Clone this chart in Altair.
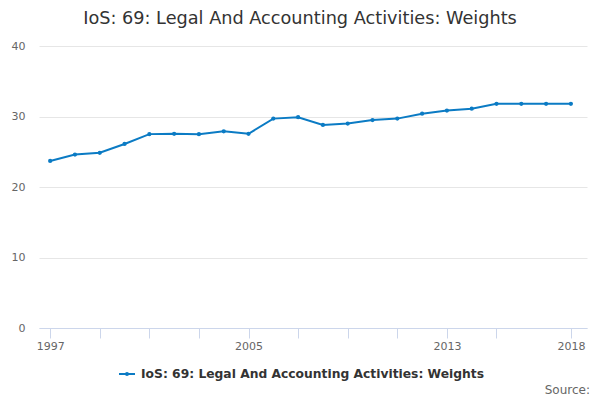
import altair as alt
import pandas as pd

years = list(range(1997, 2019))
values = [23.7, 24.6, 24.85, 26.1, 27.5, 27.55, 27.5, 27.9, 27.55, 29.7, 29.9,
          28.8, 29.0, 29.5, 29.7, 30.4, 30.85, 31.1, 31.8, 31.8, 31.8, 31.8]
series_name = "IoS: 69: Legal And Accounting Activities: Weights"
tick_years = [1997, 1999, 2001, 2003, 2005, 2007, 2009, 2011, 2013, 2015, 2018]
label_years = [1997, 2005, 2013, 2018]
y_ticks = [0, 10, 20, 30, 40]

df = pd.DataFrame({"year": years, "value": values, "series": series_name})

FONT = "DejaVu Sans"
COLOR = "#0b7bc4"
W, H = 548, 282

label_test = " || ".join(f"datum.value == {y}" for y in label_years)
legend_symbol = "M-1,0H1M-0.13,0A0.13,0.13 0 1,0 0.13,0A0.13,0.13 0 1,0 -0.13,0Z"

base = alt.Chart(df).encode(
    x=alt.X("year:Q",
            scale=alt.Scale(domain=[1996.55, 2018.65], nice=False, zero=False),
            axis=alt.Axis(values=tick_years, labelExpr=f"({label_test}) ? datum.value : ''",
                          title=None, grid=False, domainColor="#ccd6eb", tickColor="#ccd6eb",
                          tickSize=10, labelColor="#666666", labelFontSize=11, labelFont=FONT,
                          labelPadding=2, labelFlush=False, labelOverlap=False)),
    y=alt.Y("value:Q",
            scale=alt.Scale(domain=[0, 40], nice=False),
            axis=alt.Axis(values=y_ticks, title=None, domain=False, ticks=False,
                          gridColor="#e6e6e6", labelColor="#666666", labelFontSize=11,
                          labelFont=FONT, labelPadding=14)),
    color=alt.Color("series:N", scale=alt.Scale(range=[COLOR]),
                    legend=alt.Legend(orient="none", legendX=79, legendY=319,
                                      title=None, symbolType=legend_symbol,
                                      symbolStrokeWidth=2, symbolSize=256,
                                      symbolFillColor=COLOR, symbolStrokeColor=COLOR,
                                      labelFont=FONT, labelFontSize=12.3, labelFontWeight="bold",
                                      labelColor="#333333", labelLimit=500, labelOffset=5)),
)

line = base.mark_line(strokeWidth=2)
points = base.mark_point(filled=True, size=18, opacity=1)

source = alt.Chart(pd.DataFrame({"t": ["Source:"]})).mark_text(
    align="right", baseline="middle", font=FONT, fontSize=12, color="#666666"
).encode(text="t:N", x=alt.value(W + 3), y=alt.value(H + 62))

chart = alt.layer(line, points, source).properties(
    width=W, height=H,
    title=alt.TitleParams(series_name, font=FONT, fontSize=17.7, fontWeight="normal",
                          color="#333333", anchor="middle", offset=12, dx=-13),
    autosize=alt.AutoSizeParams(type="none"),
    padding={"left": 31, "top": 38, "right": 5, "bottom": 70},
).configure_view(stroke=None)

chart.save("out.html", embed_options={"renderer": "svg", "actions": False})
